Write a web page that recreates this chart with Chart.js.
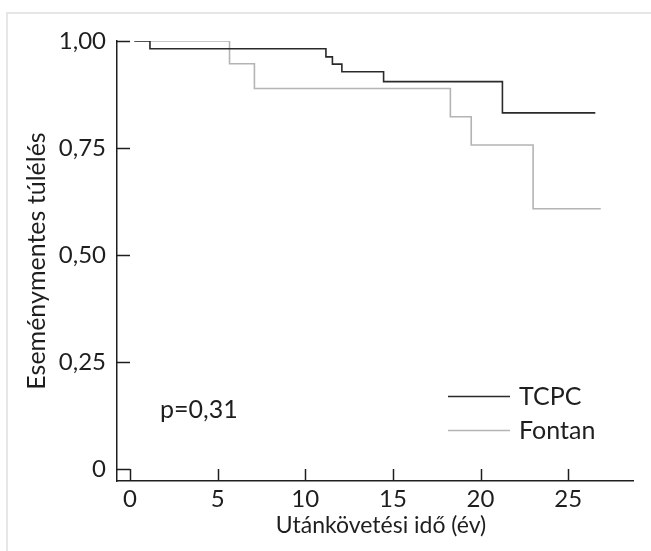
<!DOCTYPE html>
<html>
<head>
<meta charset="utf-8">
<script src="https://cdn.jsdelivr.net/npm/chart.js@4/dist/chart.umd.min.js"></script>
<style>
  html, body { margin: 0; padding: 0; background: #fff; }
  #wrap { position: relative; width: 651px; height: 551px; overflow: hidden; }
  #frame {
    position: absolute; left: 6px; top: 12px; right: -4px; bottom: -4px;
    border-top: 2px solid #e6e6e6; border-left: 2px solid #e6e6e6;
  }
  #km { position: absolute; left: 0; top: 0; }
</style>
</head>
<body>
<div id="wrap">
  <div id="frame"></div>
  <canvas id="km" width="651" height="551"></canvas>
</div>
<script>
// follow-up time (years) where the curve steps, and survival after each step
const TCPC_TIMES = [0.25, 1.14, 11.18, 11.55, 12.09, 14.47, 21.25, 26.55];
const TCPC_SURV = [1.0, 0.982, 0.963, 0.946, 0.928, 0.905, 0.832, 0.832];
const FONTAN_TIMES = [0.25, 5.68, 7.10, 18.28, 19.47, 23.0, 26.86];
const FONTAN_SURV = [1.0, 0.947, 0.889, 0.823, 0.757, 0.608, 0.608];

const X_TICKS = [0, 5, 10, 15, 20, 25];
const Y_TICKS = [0, 0.25, 0.5, 0.75, 1];
const Y_TICK_LABELS = ['0', '0,25', '0,50', '0,75', '1,00'];

const SERIES_NAMES = ['TCPC', 'Fontan'];
const P_VALUE_TEXT = 'p=0,31';
const X_TITLE = 'Utánkövetési idő (év)';
const Y_TITLE = 'Eseménymentes túlélés';

const FONT = 'Lato, "Noto Sans", sans-serif';
const INK = '#1e1e1e';
const TCPC_COLOR = '#2a2a2a';
const FONTAN_COLOR = '#b4b4b4';

function toPoints(times, surv) {
  return times.map((t, i) => ({ x: t, y: surv[i] }));
}

// ticks point into the plot area, like the original figure
const inwardTicks = {
  id: 'inwardTicks',
  afterDatasetsDraw(chart) {
    const { ctx, chartArea, scales } = chart;
    ctx.save();
    ctx.strokeStyle = INK;
    ctx.lineWidth = 1.5;
    X_TICKS.forEach((v) => {
      const px = Math.round(scales.x.getPixelForValue(v)) + 0.5;
      ctx.beginPath();
      ctx.moveTo(px, chartArea.bottom);
      ctx.lineTo(px, chartArea.bottom - 12);
      ctx.stroke();
    });
    Y_TICKS.forEach((v) => {
      const py = Math.round(scales.y.getPixelForValue(v)) + 0.5;
      ctx.beginPath();
      ctx.moveTo(chartArea.left, py);
      ctx.lineTo(chartArea.left + 13, py);
      ctx.stroke();
    });
    ctx.restore();
  },
};

// legend, p value and x title (sits a bit right of the plot centre)
const annotations = {
  id: 'annotations',
  afterDraw(chart) {
    const { ctx } = chart;
    const colors = [TCPC_COLOR, FONTAN_COLOR];
    const rows = [396, 430];
    ctx.save();
    ctx.font = `25px ${FONT}`;
    ctx.textBaseline = 'middle';
    ctx.textAlign = 'left';
    SERIES_NAMES.forEach((name, i) => {
      ctx.strokeStyle = colors[i];
      ctx.lineWidth = 1.6;
      ctx.beginPath();
      ctx.moveTo(448, rows[i] + 0.5);
      ctx.lineTo(510, rows[i] + 0.5);
      ctx.stroke();
      ctx.fillStyle = INK;
      ctx.fillText(name, 519, rows[i] + 1);
    });
    ctx.fillText(P_VALUE_TEXT, 160, 410);

    ctx.font = `23px ${FONT}`;
    ctx.textAlign = 'center';
    ctx.fillText(X_TITLE, 381, 526);
    ctx.restore();
  },
};

new Chart(document.getElementById('km'), {
  type: 'line',
  data: {
    datasets: [
      {
        label: SERIES_NAMES[0],
        data: toPoints(TCPC_TIMES, TCPC_SURV),
        borderColor: TCPC_COLOR,
        borderWidth: 1.6,
        stepped: 'before',
        pointRadius: 0,
        fill: false,
      },
      {
        label: SERIES_NAMES[1],
        data: toPoints(FONTAN_TIMES, FONTAN_SURV),
        borderColor: FONTAN_COLOR,
        borderWidth: 1.6,
        stepped: 'before',
        pointRadius: 0,
        fill: false,
      },
    ],
  },
  options: {
    responsive: false,
    devicePixelRatio: 1,
    animation: false,
    layout: { padding: { left: 0, top: 41, right: 18, bottom: 0 } },
    plugins: { legend: { display: false }, tooltip: { enabled: false } },
    scales: {
      x: {
        type: 'linear',
        min: -0.74,
        max: 28.7,
        afterBuildTicks: (scale) => { scale.ticks = X_TICKS.map(v => ({ value: v })); },
        afterFit: (scale) => { scale.height = 70; },
        grid: { display: false, drawTicks: false },
        border: { display: true, color: INK, width: 1.5 },
        ticks: { color: INK, font: { family: FONT, size: 24 }, padding: 4, maxRotation: 0, autoSkip: false },
        title: { display: false },
      },
      y: {
        type: 'linear',
        min: -0.028,
        max: 1,
        afterBuildTicks: (scale) => { scale.ticks = Y_TICKS.map(v => ({ value: v })); },
        afterFit: (scale) => { scale.width = 117; },
        grid: { display: false, drawTicks: false },
        border: { display: true, color: INK, width: 1.5 },
        ticks: {
          color: INK,
          font: { family: FONT, size: 24 },
          padding: 11,
          autoSkip: false,
          callback: (v) => Y_TICK_LABELS[Y_TICKS.indexOf(v)],
        },
        title: {
          display: true,
          text: Y_TITLE,
          color: INK,
          font: { family: FONT, size: 25 },
          padding: { top: 22, bottom: 0 },
        },
      },
    },
  },
  plugins: [inwardTicks, annotations],
});
</script>
</body>
</html>
